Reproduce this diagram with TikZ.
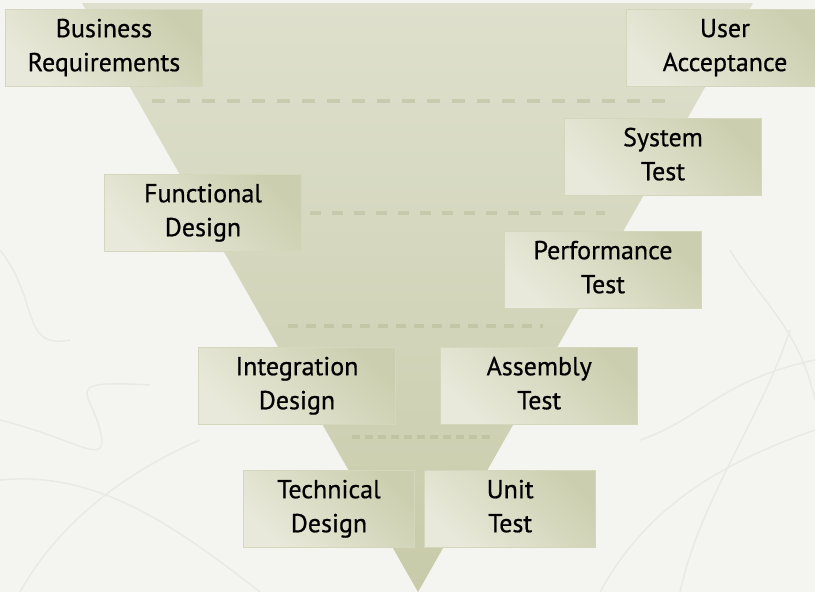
\documentclass[tikz,border=0pt]{standalone}
\usepackage{fontspec}
\setmainfont{PT Sans}
\newfontfamily\phasefont{PT Sans}[FakeBold=0.6]
\usetikzlibrary{positioning}

\definecolor{paper}{HTML}{F4F4F1}
\definecolor{scribble}{HTML}{E9EAE4}
\definecolor{funneltop}{HTML}{DEE0CD}
\definecolor{funnelbot}{HTML}{C8CBA9}
\definecolor{boxdark}{HTML}{CCCFAF}
\definecolor{boxlight}{HTML}{E8E9DA}
\definecolor{boxline}{HTML}{D5D7BD}
\definecolor{levelline}{HTML}{A9AD85}

\tikzset{
  phase/.style={draw=boxline, line width=1.2pt, top color=boxdark, bottom color=boxlight,
                shading angle=-45, minimum width=197pt, minimum height=77pt,
                inner sep=0pt, align=center, font=\phasefont\fontsize{26}{34}\selectfont,
                % same baselines in every box, whatever the letters
                execute at begin node={\rule{0pt}{26pt}},
                execute at end node={\rule[-6pt]{0pt}{6pt}}},
  smallphase/.style={phase, minimum width=171pt},
  level/.style={draw=levelline, draw opacity=0.35, line width=4pt},
}

\begin{document}
\begin{tikzpicture}[x=1pt, y=-1pt]
	\useasboundingbox (0,0) rectangle (815,592);
	\clip (0,0) rectangle (815,592);
	\fill[paper] (0,0) rectangle (815,592);

	% faint scribbles in the paper
	\begin{scope}[draw=scribble, line width=1.5pt]
	\draw (0,420) .. controls (80,440) and (110,470) .. (100,430) .. controls (90,390) and (60,380) .. (150,385);
	\draw (0,480) .. controls (100,470) and (180,530) .. (260,592);
	\draw (20,592) .. controls (60,520) and (130,470) .. (200,440);
	\draw (0,250) .. controls (40,300) and (20,350) .. (70,340);
	\draw (600,592) .. controls (640,520) and (700,470) .. (815,430);
	\draw (680,592) .. controls (700,500) and (760,420) .. (790,330);
	\draw (730,250) .. controls (760,300) and (800,330) .. (815,400);
	\draw (640,440) .. controls (700,420) and (720,380) .. (815,360);
	\end{scope}

	% the funnel
	\shade[top color=funneltop, bottom color=funnelbot] (82,3) -- (753,3) -- (418,592) -- cycle;

	% dashed level lines
	\draw[level, dash pattern=on 13pt off 12pt] (152,101) -- (671,101);
	\draw[level, dash pattern=on 11pt off 11pt] (310,213) -- (605,213);
	\draw[level, dash pattern=on 10pt off 8pt]  (288,326) -- (543,326);
	\draw[level, dash pattern=on 8pt off 5pt]   (352,437) -- (490,437);

	% design side
	\node[phase] (busreq)  at (104,48)  {Business\\Requirements};
	\node[phase] (funcdes) at (203,213) {Functional\\Design};
	\node[phase] (intdes)  at (297,386) {Integration\\Design};
	\node[smallphase] (techdes) at (329,509) {Technical\\Design};

	% test side
	\node[phase] (useracc)  at (725,48)  {User\\Acceptance};
	\node[phase] (systest)  at (663,157) {System\\Test};
	\node[phase] (perftest) at (603,270) {Performance\\Test};
	\node[phase, right=44pt of intdes]    (asstest)  {Assembly\\Test};
	\node[smallphase, right=9pt of techdes] (unittest) {Unit\\Test};
\end{tikzpicture}
\end{document}
